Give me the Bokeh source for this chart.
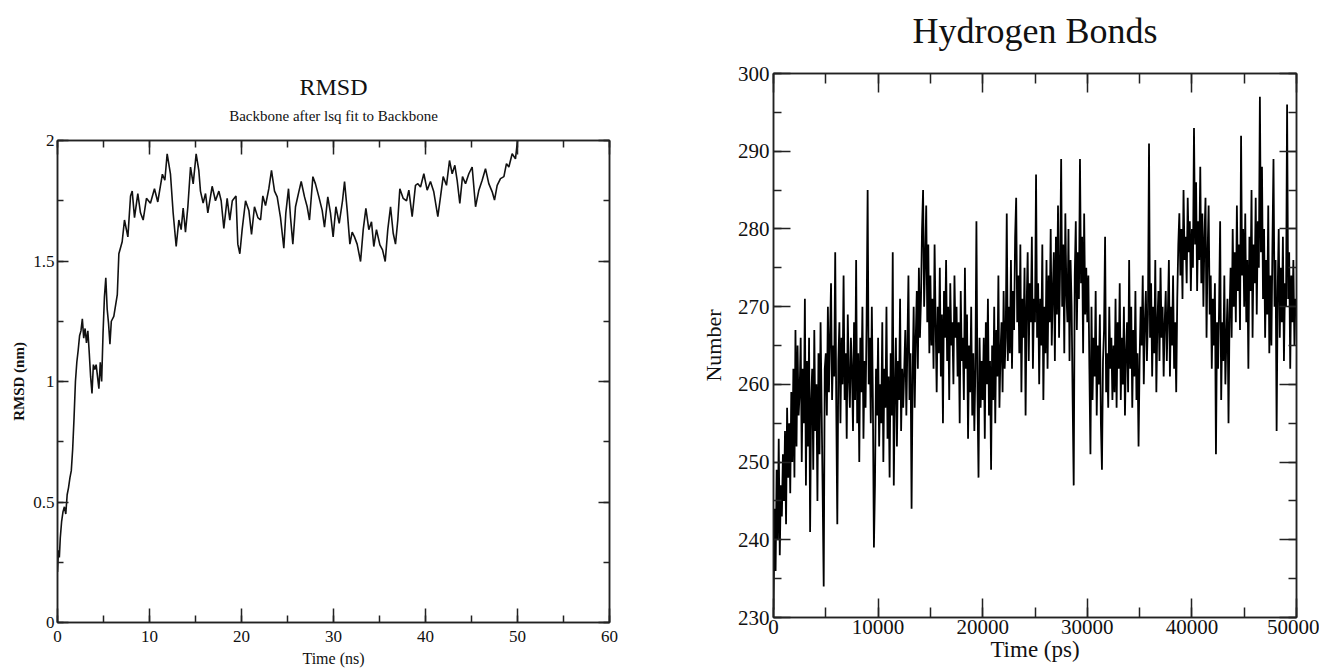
import numpy as np
from bokeh.plotting import figure
from bokeh.layouts import row
from bokeh.models import (Title, LinearAxis, SingleIntervalTicker, Range1d,
                          CustomJSTickFormatter, BasicTickFormatter)
from bokeh.embed import file_html
from bokeh.resources import INLINE

SERIF = "Liberation Serif"

# ---- Backbone RMSD (nm) vs time (ns) ----
rmsd_time = [0.0, 0.1, 0.2, 0.3, 0.45, 0.6, 0.75, 0.9, 1.05, 1.2, 1.35, 1.5, 1.65, 1.8, 1.95,
             2.1, 2.25, 2.4, 2.55, 2.7, 2.85, 3.0, 3.15, 3.3, 3.45, 3.6, 3.75, 3.9, 4.05, 4.2,
             4.35, 4.5, 4.65, 4.8, 4.95, 5.1, 5.25, 5.4, 5.55, 5.7, 5.85,
             6.12, 6.5, 6.67, 7.03, 7.28, 7.65, 7.94, 8.12, 8.37, 8.73, 9.02, 9.31, 9.67, 10.1,
             10.54, 10.9, 11.4, 11.67, 11.92, 12.28, 12.57, 12.9, 13.19, 13.44, 13.66, 13.91,
             14.17, 14.46, 14.75, 15.07, 15.36, 15.54, 15.83, 16.09, 16.34, 16.81, 17.17, 17.54,
             17.79, 18.08, 18.44, 18.73, 19.0, 19.4, 19.6, 19.82, 20.07, 20.44, 20.8, 21.09,
             21.41, 21.78, 22.07, 22.32, 22.61, 22.97, 23.26, 23.59, 23.88, 24.24, 24.6, 24.82,
             25.11, 25.33, 25.58, 25.87, 26.23, 26.49, 26.85, 27.14, 27.39, 27.76, 28.04, 28.41,
             28.77, 29.02, 29.38, 29.67, 29.96, 30.26, 30.62, 30.98, 31.2, 31.49, 31.78, 32.03,
             32.28, 32.57, 32.94, 33.23, 33.52, 33.84, 34.13, 34.38, 34.67, 35.04, 35.33, 35.62,
             35.9, 36.2, 36.49, 36.74, 36.99, 37.21, 37.57, 37.94, 38.19, 38.55, 38.91, 39.17,
             39.46, 39.82, 40.18, 40.54, 40.9, 41.34, 41.63, 41.92, 42.28, 42.61, 42.9, 43.19,
             43.44, 43.73, 44.02, 44.35, 44.71, 45.07, 45.44, 45.8, 46.16, 46.52, 46.88, 47.25,
             47.5, 47.79, 48.15, 48.52, 48.8, 49.06, 49.42, 49.78, 50.0]
rmsd_value = [0.21, 0.30, 0.27, 0.35, 0.42, 0.46, 0.48, 0.45, 0.53, 0.56, 0.60, 0.63, 0.72, 0.85, 1.00,
              1.08, 1.13, 1.19, 1.21, 1.26, 1.18, 1.22, 1.16, 1.21, 1.12, 1.02, 0.95, 1.07, 1.05, 1.07,
              1.02, 0.97, 1.08, 1.00, 1.20, 1.35, 1.43, 1.30, 1.24, 1.155, 1.25,
              1.27, 1.36, 1.53, 1.58, 1.67, 1.60, 1.77, 1.79, 1.68, 1.78, 1.70, 1.67, 1.76, 1.74,
              1.80, 1.745, 1.86, 1.835, 1.945, 1.86, 1.70, 1.56, 1.67, 1.63, 1.72, 1.62,
              1.725, 1.89, 1.82, 1.945, 1.876, 1.79, 1.74, 1.78, 1.70, 1.81, 1.75, 1.79,
              1.75, 1.635, 1.76, 1.67, 1.75, 1.77, 1.57, 1.53, 1.63, 1.75, 1.71, 1.61,
              1.725, 1.68, 1.67, 1.77, 1.73, 1.80, 1.876, 1.79, 1.766, 1.68, 1.553, 1.70,
              1.80, 1.68, 1.57, 1.725, 1.787, 1.83, 1.766, 1.725, 1.67, 1.85, 1.82, 1.766,
              1.71, 1.64, 1.766, 1.70, 1.60, 1.725, 1.656, 1.75, 1.83, 1.71, 1.57, 1.62,
              1.60, 1.57, 1.498, 1.63, 1.718, 1.63, 1.663, 1.56, 1.63, 1.567, 1.546, 1.498,
              1.63, 1.725, 1.615, 1.57, 1.67, 1.80, 1.76, 1.75, 1.794, 1.684, 1.814, 1.821,
              1.807, 1.862, 1.794, 1.83, 1.787, 1.684, 1.766, 1.85, 1.814, 1.917, 1.862, 1.897,
              1.835, 1.739, 1.85, 1.821, 1.862, 1.89, 1.725, 1.794, 1.835, 1.883, 1.821, 1.787,
              1.753, 1.814, 1.842, 1.85, 1.904, 1.89, 1.945, 1.924, 2.0]

# ---- Hydrogen bond count, sampled every 100 ps from 0 to 50000 ps ----
hb_count = [
    231, 244, 236, 249, 240, 253, 238, 247, 243, 251, 245, 254, 242, 257, 248, 255, 246, 259, 250, 262, 248, 267, 252, 265, 256,
    259, 266, 250, 262, 255, 271, 247, 263, 252, 266, 241, 258, 262, 249, 267, 254, 260, 245, 264, 251, 268, 257, 246, 234, 262,
    264, 256, 270, 259, 266, 273, 258, 265, 261, 277, 257, 242, 263, 268, 255, 266, 260, 274, 258, 264, 253, 269, 261, 257, 266,
    262, 254, 268, 258, 276, 255, 264, 250, 266, 259, 270, 253, 263, 257, 268, 285, 260, 266, 255, 270, 258, 239, 247, 262, 256,
    266, 252, 260, 255, 268, 250, 262, 257, 270, 253, 261, 248, 264, 256, 277, 247, 259, 266, 252, 263, 258, 271, 254, 262, 257,
    262, 267, 256, 265, 274, 258, 264, 244, 261, 270, 257, 266, 272, 262, 275, 266, 271, 280, 285, 270, 276, 283, 268, 278, 264,
    274, 265, 271, 262, 278, 268, 259, 270, 264, 275, 261, 269, 255, 272, 266, 276, 263, 270, 258, 273, 265, 268, 260, 274, 266,
    270, 261, 268, 255, 272, 263, 266, 258, 275, 262, 269, 253, 265, 259, 270, 256, 264, 254, 262, 281, 259, 248, 266, 257, 263,
    258, 266, 253, 268, 260, 271, 256, 263, 249, 265, 258, 270, 255, 267, 261, 274, 257, 264, 268, 259, 272, 262, 266, 282, 263,
    270, 264, 276, 262, 272, 267, 279, 284, 268, 274, 264, 278, 259, 271, 266, 275, 256, 270, 277, 263, 273, 268, 279, 262, 271,
    268, 287, 266, 273, 260, 271, 265, 278, 258, 270, 264, 276, 262, 274, 268, 280, 265, 272, 277, 263, 279, 269, 283, 266, 275,
    289, 270, 278, 264, 282, 272, 268, 280, 263, 276, 270, 258, 247, 274, 281, 267, 277, 271, 289, 273, 279, 264, 282, 269, 275,
    268, 274, 262, 251, 270, 258, 266, 261, 272, 256, 265, 260, 269, 255, 249, 263, 267, 279, 259, 264, 257, 270, 262, 266, 258,
    265, 259, 271, 257, 268, 262, 273, 258, 266, 260, 270, 256, 264, 268, 259, 276, 262, 270, 257, 267, 261, 272, 258, 264, 252,
    263, 270, 265, 274, 260, 268, 272, 263, 269, 291, 266, 273, 261, 270, 264, 276, 259, 268, 272, 263, 275, 266, 270, 261, 268,
    272, 263, 269, 276, 261, 270, 265, 274, 262, 268, 259, 271, 278, 282, 274, 280, 271, 285, 276, 279, 273, 284, 277, 281, 272,
    280, 275, 293, 278, 286, 272, 281, 276, 288, 273, 282, 270, 279, 284, 266, 277, 283, 269, 274, 262, 271, 265, 273, 251, 268,
    262, 270, 281, 258, 268, 263, 274, 260, 266, 271, 255, 269, 275, 266, 280, 270, 277, 268, 283, 272, 278, 267, 292, 274, 280,
    270, 282, 268, 276, 262, 279, 272, 285, 266, 278, 273, 284, 269, 281, 275, 297, 277, 288, 271, 280, 266, 276, 269, 283, 264,
    274, 265, 278, 289, 270, 276, 254, 272, 280, 266, 275, 268, 279, 263, 273, 270, 296, 271, 277, 262, 274, 268, 276, 265, 271, 269,
]
hb_time = np.linspace(0, 50000, len(hb_count))

blank = CustomJSTickFormatter(code="return '';")


def frame_style(p, x_in, x_minor, y_in, y_minor, width):
    p.outline_line_color = "#222222"
    p.outline_line_width = width
    for ax in p.axis:
        ax.axis_line_color = "#222222"
        ax.axis_line_width = width
        ax.major_tick_line_color = "#222222"
        ax.minor_tick_line_color = "#222222"
        ax.major_tick_line_width = width
        ax.minor_tick_line_width = width
        ax.major_tick_out = 0
        ax.minor_tick_out = 0
    for ax in p.xaxis:
        ax.major_tick_in = x_in
        ax.minor_tick_in = x_minor
    for ax in p.yaxis:
        ax.major_tick_in = y_in
        ax.minor_tick_in = y_minor


# ---------------- left panel: RMSD ----------------
p1 = figure(width=660, height=669, output_backend="svg", toolbar_location=None,
            x_range=Range1d(0, 60), y_range=Range1d(0, 2),
            min_border_left=57, min_border_right=51, min_border_top=140, min_border_bottom=44,
            x_axis_label="Time (ns)", y_axis_label="RMSD (nm)")
p1.frame_align = False
p1.grid.visible = False
p1.background_fill_color = "white"
p1.border_fill_color = "white"

xt1 = SingleIntervalTicker(interval=10, num_minor_ticks=2)
yt1 = SingleIntervalTicker(interval=0.5, num_minor_ticks=2)
p1.xaxis.ticker = xt1
p1.yaxis.ticker = yt1
p1.yaxis.major_label_overrides = {0: "0", 0.5: "0.5", 1: "1", 1.5: "1.5", 2: "2"}
p1.add_layout(LinearAxis(ticker=xt1, formatter=blank), "above")
p1.add_layout(LinearAxis(ticker=yt1, formatter=blank), "right")

for ax in p1.axis:
    ax.major_label_text_font = SERIF
    ax.major_label_text_font_size = "17px"
    ax.major_label_text_color = "#111111"
    ax.axis_label_text_font = SERIF
    ax.axis_label_text_color = "#111111"
    ax.major_label_standoff = 3
xb1 = p1.below[0]
yl1 = p1.left[0]
xb1.major_label_standoff = 8
xb1.axis_label_text_font_size = "16px"
xb1.axis_label_text_font_style = "normal"
xb1.axis_label_standoff = 5
yl1.axis_label_text_font_size = "15px"
yl1.axis_label_text_font_style = "bold"
yl1.axis_label_standoff = 3
frame_style(p1, 14, 7, 11, 6, 1.5)

p1.add_layout(Title(text="Backbone after lsq fit to Backbone", align="center",
                    text_font=SERIF, text_font_size="15px", text_font_style="normal",
                    text_color="#111111", standoff=33), "above")
p1.add_layout(Title(text="RMSD", align="center", text_font=SERIF, text_font_size="24px",
                    text_font_style="normal", text_color="#111111", standoff=-20), "above")

p1.line(rmsd_time, rmsd_value, line_color="#111111", line_width=1.6)

# ---------------- right panel: hydrogen bonds ----------------
p2 = figure(width=659, height=669, output_backend="svg", toolbar_location=None,
            x_range=Range1d(0, 50000), y_range=Range1d(230, 300),
            min_border_left=113, min_border_right=23, min_border_top=73, min_border_bottom=52,
            x_axis_label="Time (ps)", y_axis_label="Number")
p2.frame_align = False
p2.grid.visible = False
p2.background_fill_color = "white"
p2.border_fill_color = "white"

xt2 = SingleIntervalTicker(interval=10000, num_minor_ticks=2)
yt2 = SingleIntervalTicker(interval=10, num_minor_ticks=2)
p2.xaxis.ticker = xt2
p2.yaxis.ticker = yt2
p2.xaxis.formatter = BasicTickFormatter(use_scientific=False)
# the unlabeled top axis carries the panel heading as its axis label
p2.add_layout(LinearAxis(ticker=xt2, formatter=blank, axis_label="Hydrogen Bonds"), "above")
p2.add_layout(LinearAxis(ticker=yt2, formatter=blank), "right")

for ax in p2.axis:
    ax.major_label_text_font = SERIF
    ax.major_label_text_font_size = "21px"
    ax.major_label_text_color = "#111111"
    ax.axis_label_text_font = SERIF
    ax.axis_label_text_color = "#111111"
    ax.axis_label_text_font_style = "normal"
    ax.major_label_standoff = 4
xb2 = p2.below[0]
yl2 = p2.left[0]
xt_top = p2.above[0]
xb2.axis_label_text_font_size = "23px"
xb2.axis_label_standoff = 0
xb2.major_label_standoff = 2
yl2.axis_label_text_font_size = "22px"
yl2.axis_label_standoff = 9
xt_top.axis_label_text_font_size = "36px"
xt_top.axis_label_standoff = 23
frame_style(p2, 19, 10, 17, 8, 1.5)

p2.line(hb_time, hb_count, line_color="#000000", line_width=1.8)

layout = row(p1, p2)
open("out.html", "w").write(file_html(layout, INLINE))
